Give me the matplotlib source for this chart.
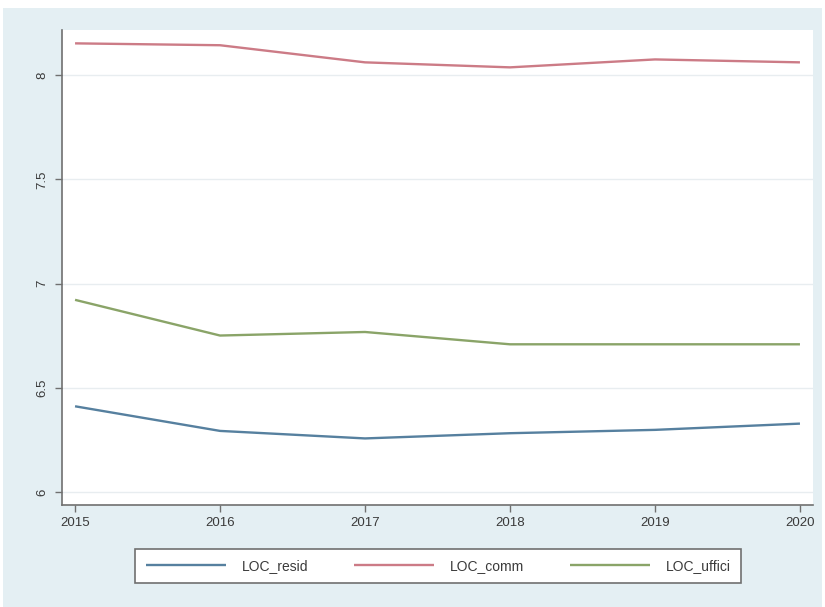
import matplotlib
matplotlib.use("Agg")
import matplotlib.pyplot as plt
from matplotlib.patches import Rectangle

years = [2015, 2016, 2017, 2018, 2019, 2020]
loc_resid = [6.413, 6.295, 6.259, 6.284, 6.300, 6.330]
loc_comm = [8.152, 8.143, 8.061, 8.037, 8.075, 8.061]
loc_uffici = [6.923, 6.752, 6.769, 6.710, 6.710, 6.710]

series_names = ["LOC_resid", "LOC_comm", "LOC_uffici"]
series_colors = ["#56809f", "#cc7b86", "#8aa468"]
y_ticks = [6, 6.5, 7, 7.5, 8]
y_tick_labels = ["6", "6.5", "7", "7.5", "8"]

plt.rcParams["font.family"] = ["Liberation Sans", "DejaVu Sans"]

fig = plt.figure(figsize=(8.25, 6.07), dpi=100)
fig.patch.set_facecolor("white")

# light outer graph region, kept behind the plot axes
fig.patches.append(Rectangle((3 / 825, 0), 819 / 825, 1 - 8 / 607,
                             transform=fig.transFigure, facecolor="#e4eff3",
                             edgecolor="none", zorder=-10))

ax = fig.add_axes([62 / 825, 1 - 505 / 607, (813 - 62) / 825, (505 - 30) / 607])
ax.set_facecolor("white")

for vals, name, col in zip([loc_resid, loc_comm, loc_uffici], series_names, series_colors):
    ax.plot(years, vals, color=col, lw=1.7, label=name, solid_capstyle="butt")

ax.set_xlim(2014.91, 2020.09)
ax.set_ylim(5.94, 8.216)
ax.set_xticks(years)
ax.set_xticklabels([str(y) for y in years], fontsize=9.5, color="#3a3a3a")
ax.set_yticks(y_ticks)
ax.set_yticklabels(y_tick_labels, fontsize=9.5, color="#3a3a3a", rotation=90, va="center")

ax.grid(axis="y", color="#e8edf0", lw=1.0)
ax.set_axisbelow(True)
for s in ["top", "right"]:
    ax.spines[s].set_visible(False)
for s in ["left", "bottom"]:
    ax.spines[s].set_color("#707070")
    ax.spines[s].set_linewidth(1.2)
ax.tick_params(axis="both", direction="out", length=5, width=1, color="#707070")
ax.tick_params(axis="y", pad=5)
ax.tick_params(axis="x", pad=4)

handles, labels = ax.get_legend_handles_labels()
leg = fig.legend(handles, labels, loc="center", bbox_to_anchor=(438 / 825, 1 - 566 / 607),
                 ncol=3, frameon=True, fancybox=False, fontsize=10,
                 handlelength=5.8, handletextpad=1.1, columnspacing=3.3,
                 borderpad=0.75, edgecolor="#707070")
leg.get_frame().set_linewidth(1.2)
leg.get_frame().set_facecolor("white")
leg.get_frame().set_alpha(1.0)
for t in leg.get_texts():
    t.set_color("#3a3a3a")

fig.savefig("out.png", dpi=100)
